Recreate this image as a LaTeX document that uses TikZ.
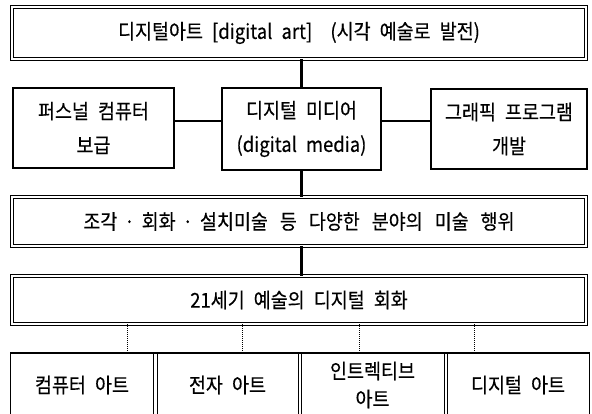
\documentclass[tikz,border=0pt]{standalone}
\usepackage{fontspec}
\setmainfont{Noto Sans CJK KR}[WordSpace=2.2,FakeStretch=0.9,FakeBold=0.3]
\newcommand\kdot{\hspace{-5pt}·\hspace{-5pt}}
\begin{document}
\begin{tikzpicture}[x=1pt,y=1pt,
  every node/.style={inner sep=0pt,align=center,font=\fontsize{20.5}{34}\selectfont},
  dbox/.style={draw=black,line width=0.8pt,double=white,double distance=2.4pt},
  tbox/.style={draw=black,line width=2.4pt},
  bbox/.style={draw=black,line width=1pt},
  conn/.style={line width=2.4pt},
  dots/.style={line width=0.6pt,dash pattern=on 1pt off 1pt}]
\useasboundingbox (0,0) rectangle (592,-414);
\clip (0,0) rectangle (592,-414);
\fill[white] (0,0) rectangle (592,-414);
% nodes
\node[dbox,minimum width=574pt,minimum height=52pt] (T) at (299,-33)
  {디지털아트 [digital art]\ \ (시각 예술로 발전)};
\node[tbox,minimum width=161pt,minimum height=80pt] (L) at (93.5,-128)
  {퍼스널 컴퓨터\\보급};
\node[tbox,minimum width=159pt,minimum height=82pt] (M) at (301.5,-129)
  {디지털 미디어\\(digital media)};
\node[tbox,minimum width=156pt,minimum height=80pt] (R) at (509,-129)
  {그래픽 프로그램\\개발};
\node[dbox,minimum width=574pt,minimum height=49pt] (S) at (299,-221.5)
  {\spaceskip=12pt 조각 \kdot{} 회화 \kdot{} 설치미술 등 다양한 분야의 미술 행위};
\node[dbox,minimum width=574pt,minimum height=48pt] (F) at (299,-300)
  {21세기 예술의 디지털 회화};
\node[bbox,minimum width=143pt,minimum height=64pt] (B1) at (82,-385) {컴퓨터 아트};
\node[bbox,minimum width=141pt,minimum height=64pt] (B2) at (227.5,-385) {전자 아트};
\node[bbox,minimum width=143pt,minimum height=64pt,font=\fontsize{20.5}{28}\selectfont] (B3) at (372.5,-385) {인트렉티브\\아트};
\node[bbox,minimum width=142pt,minimum height=64pt] (B4) at (518,-385) {디지털 아트};
% helper coordinates
\coordinate (hy) at (0,-121);
\coordinate (d1) at (127,0);
\coordinate (d2) at (242,0);
\coordinate (d3) at (359,0);
\coordinate (d4) at (474,0);
% connectors
\draw[conn] (T.south -| M.north) -- (M.north);
\draw[conn] (M.south) -- (S.north -| M.south);
\draw[conn] (S.south -| M.south) -- (F.north -| M.south);
\draw[conn] (L.east |- hy) -- (M.west |- hy);
\draw[conn] (M.east |- hy) -- (R.west |- hy);
\draw[dots] (F.south -| d1) -- (B1.north -| d1);
\draw[dots] (F.south -| d2) -- (B2.north -| d2);
\draw[dots] (F.south -| d3) -- (B3.north -| d3);
\draw[dots] (F.south -| d4) -- (B4.north -| d4);
\draw[line width=2pt] (B1.north west) -- (B4.north east);
\end{tikzpicture}
\end{document}
